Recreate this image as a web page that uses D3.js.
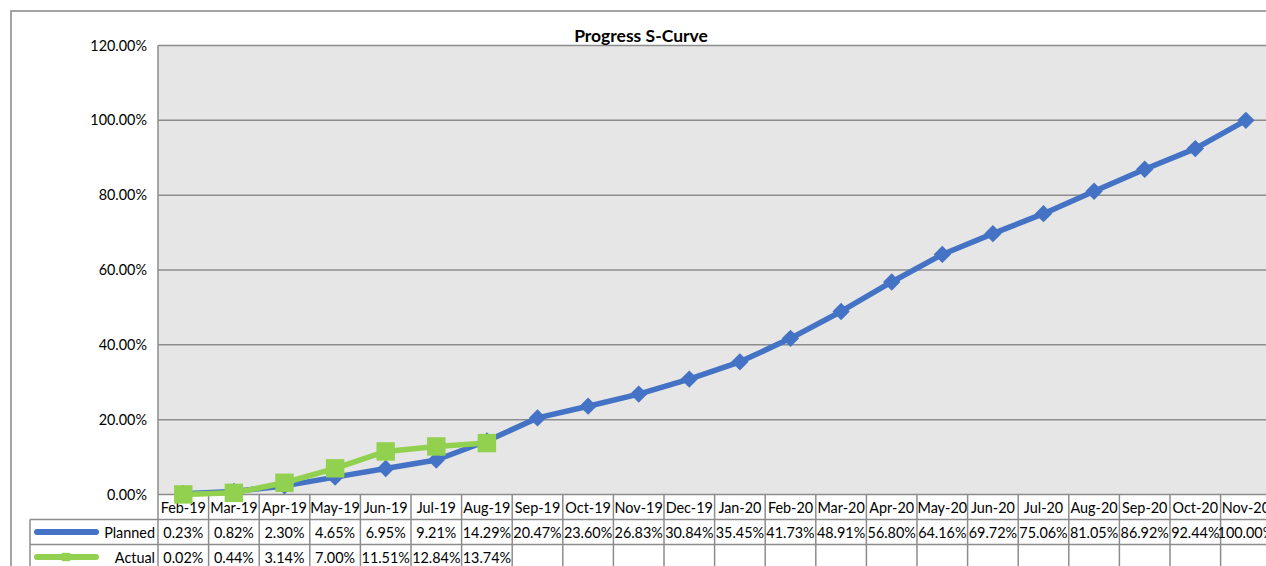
<!DOCTYPE html>
<html><head><meta charset="utf-8">
<script src="https://cdn.jsdelivr.net/npm/d3@7"></script>
<style>body{margin:0;background:#fff;overflow:hidden}svg{display:block}</style>
</head><body>
<svg id="c" width="1266" height="566"></svg>
<script>
const categories = ["Feb-19","Mar-19","Apr-19","May-19","Jun-19","Jul-19","Aug-19","Sep-19","Oct-19","Nov-19","Dec-19","Jan-20","Feb-20","Mar-20","Apr-20","May-20","Jun-20","Jul-20","Aug-20","Sep-20","Oct-20","Nov-20"];
const planned = [0.23,0.82,2.30,4.65,6.95,9.21,14.29,20.47,23.60,26.83,30.84,35.45,41.73,48.91,56.80,64.16,69.72,75.06,81.05,86.92,92.44,100.00];
const actual = [0.02,0.44,3.14,7.00,11.51,12.84,13.74];
const yTicks = [0,20,40,60,80,100,120];
const title = "Progress S-Curve";
const seriesNames = ["Planned","Actual"];

const svg = d3.select("#c");
const font = "Lato, 'Open Sans', sans-serif";
const fs = 14.4;
const gridCol = "#8c8c8c";
const blue = "#4472C4", green = "#92D050";

const left = 158, colW = 50.6;
const x = d3.scaleBand().domain(categories).range([left, left + colW*categories.length]).padding(0);
const y = d3.scaleLinear().domain([0,120]).range([494.5, 45.5]);

// outer frame
svg.append("rect").attr("x",11).attr("y",11).attr("width",1300).attr("height",600)
  .attr("fill","#fff").attr("stroke","#868686").attr("stroke-width",1.5);

// plot background
svg.append("rect").attr("x",left).attr("y",y(120)).attr("width",colW*categories.length).attr("height",y(0)-y(120))
  .attr("fill","#e6e6e6");

// gridlines
svg.append("g").selectAll("line").data(yTicks).join("line")
  .attr("x1",left).attr("x2",left+colW*categories.length)
  .attr("y1",d=>y(d)).attr("y2",d=>y(d))
  .attr("stroke",gridCol).attr("stroke-width",1.5);
svg.append("line").attr("x1",left).attr("x2",left).attr("y1",y(120)).attr("y2",y(0)).attr("stroke",gridCol).attr("stroke-width",1.5);

// y labels
svg.append("g").selectAll("text").data(yTicks).join("text")
  .attr("x",147).attr("y",d=>y(d)).attr("dy","0.35em").attr("text-anchor","end")
  .attr("font-family",font).attr("font-size",fs).attr("fill","#000")
  .text(d=>d3.format(".2f")(d)+"%");

// title
svg.append("text").attr("x",641).attr("y",42).attr("text-anchor","middle")
  .attr("font-family",font).attr("font-weight","bold").attr("font-size",17.5).text(title);

// data table
const rowTop = [494.5, 519.5, 544.5, 569.5];
const tg = svg.append("g");
tg.append("line").attr("x1",30).attr("x2",1300).attr("y1",rowTop[1]).attr("y2",rowTop[1]).attr("stroke",gridCol).attr("stroke-width",1.5);
tg.append("line").attr("x1",30).attr("x2",1300).attr("y1",rowTop[2]).attr("y2",rowTop[2]).attr("stroke",gridCol).attr("stroke-width",1.5);
tg.append("line").attr("x1",30).attr("x2",30).attr("y1",rowTop[1]).attr("y2",600).attr("stroke",gridCol).attr("stroke-width",1.5);
const bounds = categories.map(c=>x(c)).concat([x(categories[categories.length-1])+x.bandwidth()]);
tg.selectAll("line.v").data(bounds).join("line").attr("class","v")
  .attr("x1",d=>d).attr("x2",d=>d).attr("y1",rowTop[0]).attr("y2",600)
  .attr("stroke",gridCol).attr("stroke-width",1.5);

tg.selectAll("text.h").data(categories).join("text").attr("class","h")
  .attr("x",d=>x(d)+x.bandwidth()/2).attr("y",(rowTop[0]+rowTop[1])/2+1).attr("dy","0.35em")
  .attr("text-anchor","middle").attr("font-family",font).attr("font-size",fs).text(d=>d);
tg.selectAll("text.p").data(planned).join("text").attr("class","p")
  .attr("x",(d,i)=>x(categories[i])+x.bandwidth()/2).attr("y",(rowTop[1]+rowTop[2])/2+1).attr("dy","0.35em")
  .attr("text-anchor","middle").attr("font-family",font).attr("font-size",fs).text(d=>d3.format(".2f")(d)+"%");
tg.selectAll("text.a").data(actual).join("text").attr("class","a")
  .attr("x",(d,i)=>x(categories[i])+x.bandwidth()/2).attr("y",(rowTop[2]+rowTop[3])/2+1).attr("dy","0.35em")
  .attr("text-anchor","middle").attr("font-family",font).attr("font-size",fs).text(d=>d3.format(".2f")(d)+"%");

// legend keys
const keyY = [(rowTop[1]+rowTop[2])/2, (rowTop[2]+rowTop[3])/2];
tg.append("line").attr("x1",37).attr("x2",96).attr("y1",keyY[0]).attr("y2",keyY[0]).attr("stroke",blue).attr("stroke-width",6).attr("stroke-linecap","round");
tg.append("path").attr("d",d3.symbol(d3.symbolSquare,20)()).attr("transform",`translate(66,${keyY[0]}) rotate(45)`).attr("fill",blue);
tg.append("line").attr("x1",37).attr("x2",96).attr("y1",keyY[1]).attr("y2",keyY[1]).attr("stroke",green).attr("stroke-width",6).attr("stroke-linecap","round");
tg.append("path").attr("d",d3.symbol(d3.symbolSquare,70)()).attr("transform",`translate(66,${keyY[1]})`).attr("fill",green);
tg.selectAll("text.k").data(seriesNames).join("text").attr("class","k")
  .attr("x",155).attr("y",(d,i)=>keyY[i]+1).attr("dy","0.35em").attr("text-anchor","end")
  .attr("font-family",font).attr("font-size",fs).text(d=>d);

// series
const cx = d=>x(d)+x.bandwidth()/2;
const line = d3.line().x((d,i)=>cx(categories[i])).y(d=>y(d));
svg.append("path").datum(planned).attr("d",line).attr("fill","none").attr("stroke",blue).attr("stroke-width",5.5).attr("stroke-linejoin","round");
svg.append("g").selectAll("path").data(planned).join("path")
  .attr("d",d3.symbol(d3.symbolSquare,150)()).attr("transform",(d,i)=>`translate(${cx(categories[i])},${y(d)}) rotate(45)`).attr("fill",blue);
svg.append("path").datum(actual).attr("d",line).attr("fill","none").attr("stroke",green).attr("stroke-width",5.5).attr("stroke-linejoin","round");
svg.append("g").selectAll("path").data(actual).join("path")
  .attr("d",d3.symbol(d3.symbolSquare,340)()).attr("transform",(d,i)=>`translate(${cx(categories[i])},${y(d)})`).attr("fill",green);
</script>
</body></html>
